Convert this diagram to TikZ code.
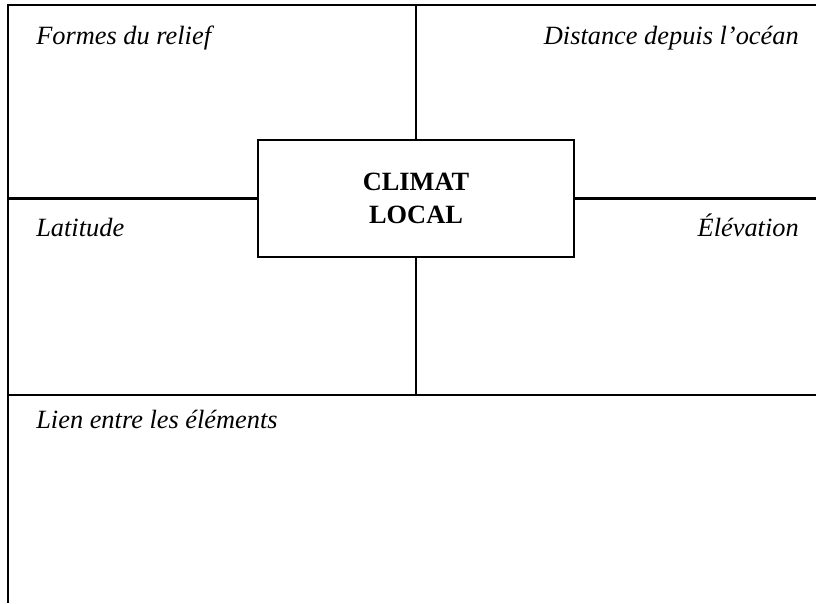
\documentclass[tikz,border=0pt]{standalone}
\usepackage{fontspec}
\setmainfont{Liberation Serif}
\tikzset{
  etiquette/.style={font=\fontsize{22.5}{26}\selectfont\itshape, inner sep=0pt},
  centre/.style={draw, line width=0.8mm, align=center, font=\fontsize{22.5}{28}\selectfont\bfseries,
    minimum width=9.48cm, minimum height=3.51cm}
}
\begin{document}
\begin{tikzpicture}[x=0.03cm, y=-0.03cm, line width=0.8mm]
\useasboundingbox (0,0) rectangle (816,603);
% cadre
\coordinate (hg) at (8,5);
\coordinate (hd) at (816,5);
\coordinate (bg) at (8,603);
\coordinate (mg) at (8,395);
\coordinate (md) at (816,395);
\draw (bg) -- (hg) -- (hd);
\draw (mg) -- (md);
% boite centrale
\node[centre] (climat) at (416,198.5) {CLIMAT\\LOCAL};
\draw (climat.north) -- (climat.north |- hg);
\draw (climat.south) -- (climat.south |- mg);
\draw (climat.west) -- (climat.west -| hg);
\draw (climat.east) -- (climat.east -| hd);
% textes
\node[etiquette, anchor=base west] (relief) at (35,44) {Formes du relief};
\node[etiquette, anchor=base east] (ocean) at (800,44) {Distance depuis l’océan};
\node[etiquette, anchor=base west] (latitude) at (35,236) {Latitude};
\node[etiquette, anchor=base east] (elevation) at (800,236) {Élévation};
\node[etiquette, anchor=base west] (lien) at (35,428) {Lien entre les éléments};
\end{tikzpicture}
\end{document}
